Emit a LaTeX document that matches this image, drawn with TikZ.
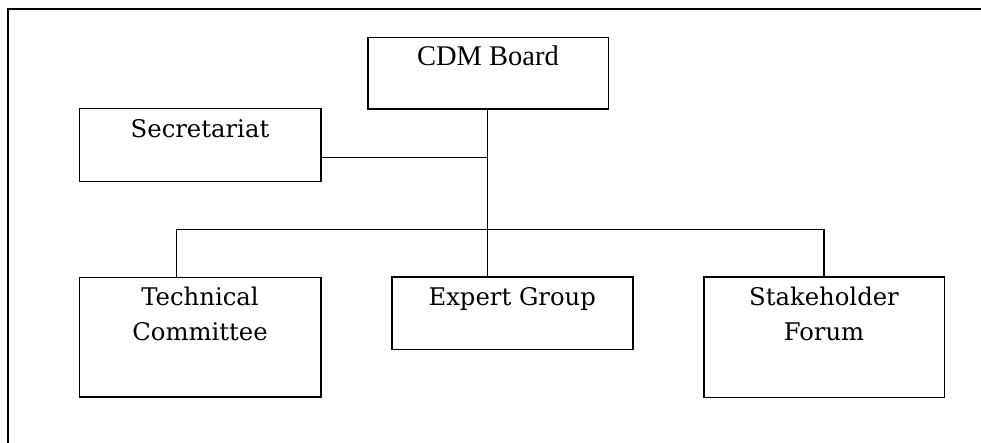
\documentclass[tikz,border=0pt]{standalone}
\usepackage{fontspec}
\newfontfamily\dvserif{DejaVu Serif}
\newfontfamily\libserif{Liberation Serif}
\begin{document}
\begin{tikzpicture}[x=1pt,y=-1pt,
  orgbox/.style={draw=black, line width=1.6pt, rectangle, inner sep=0pt, outer sep=0pt, fill=white},
  lbl/.style={anchor=base, inner sep=0pt, font=\dvserif\fontsize{24.3}{35}\selectfont},
  conn/.style={draw=black, line width=1.4pt}]
\useasboundingbox (0,0) rectangle (981,443);
\fill[white] (0,0) rectangle (981,443);
% outer frame
\coordinate (fb) at (8,445);
\coordinate (fc) at (8,8.7);
\coordinate (fr) at (983,8.7);
\draw[line width=2.2pt] (fb) -- (fc) -- (fr);
% boxes
\node[orgbox, minimum width=240.6pt, minimum height=71.7pt] (cdm) at (488,73.2) {};
\node[orgbox, minimum width=241.4pt, minimum height=73pt] (sec) at (200,145.2) {};
\node[orgbox, minimum width=241.4pt, minimum height=119.7pt] (tc) at (200,337.2) {};
\node[orgbox, minimum width=241pt, minimum height=72pt] (eg) at (512.2,313.3) {};
\node[orgbox, minimum width=240.6pt, minimum height=120pt] (sf) at (824,337.3) {};
% labels
\node[anchor=base, inner sep=0pt, font=\libserif\fontsize{28.5}{34}\selectfont] (cdmt) at ([yshift=-28pt]cdm.north) {CDM Board};
\node[lbl] (sect) at ([yshift=-28.6pt]sec.north) {Secretariat};
\node[lbl] (tct) at ([yshift=-28pt]tc.north) {\begin{tabular}[t]{@{}c@{}}Technical\\Committee\end{tabular}};
\node[lbl] (egt) at ([yshift=-28.4pt]eg.north) {Expert Group};
\node[lbl] (sft) at ([yshift=-28.4pt]sf.north) {\begin{tabular}[t]{@{}c@{}}Stakeholder\\Forum\end{tabular}};
% connectors
\coordinate (j) at (487.7,229.3);
\coordinate (bl) at (176.3,229.3);
\coordinate (br) at (824,229.3);
\coordinate (sj) at (487.7,157.3);
\draw[conn] (cdm.south -| j) -- (j);
\draw[conn] (sec.east |- sj) -- (sj);
\draw[conn] (tc.north -| bl) -- (bl) -- (br) -- (sf.north);
\draw[conn] (j) -- (eg.north -| j);
\end{tikzpicture}
\end{document}
